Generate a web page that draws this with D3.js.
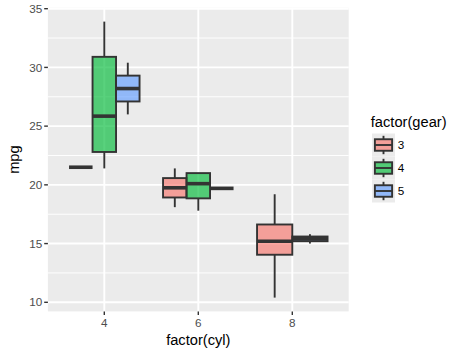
<!DOCTYPE html>
<html>
<head>
<meta charset="utf-8">
<script src="https://cdn.jsdelivr.net/npm/d3@7"></script>
<style>
  body { margin: 0; background: #fff; }
  svg { display: block; font-family: "Liberation Sans", Arial, Helvetica, sans-serif; }
</style>
</head>
<body>
<svg id="chart" width="462" height="355"></svg>
<script>
// ---- data (box statistics) ----
const cylLevels = ["4", "6", "8"];
const gearLevels = ["3", "4", "5"];
const boxCyl   = ["4",  "4",   "4",  "6",    "6",   "6",  "8",    "8"];
const boxGear  = ["3",  "4",   "5",  "3",    "4",   "5",  "3",    "5"];
const boxLow   = [21.5, 21.4,  26.0, 18.1,   17.8,  19.7, 10.4,   15.0];
const boxQ1    = [21.5, 22.8,  27.1, 18.925, 18.85, 19.7, 14.05,  15.2];
const boxMed   = [21.5, 25.85, 28.2, 19.75,  20.1,  19.7, 15.2,   15.4];
const boxQ3    = [21.5, 30.9,  29.3, 20.575, 21.0,  19.7, 16.625, 15.6];
const boxHigh  = [21.5, 33.9,  30.4, 21.4,   21.0,  19.7, 19.2,   15.8];
const yTicks = [10, 15, 20, 25, 30, 35];
const yMinor = [12.5, 17.5, 22.5, 27.5, 32.5];
const gearColors = ["#F8766D", "#00BA38", "#619CFF"];

const boxes = boxCyl.map((c, i) => ({
  cyl: c, gear: boxGear[i], low: boxLow[i], q1: boxQ1[i],
  med: boxMed[i], q3: boxQ3[i], high: boxHigh[i]
}));

// ---- layout ----
const svg = d3.select("#chart");
const panel = { left: 47.9, right: 348.7, top: 7.8, bottom: 311.4 };
const fillAlpha = 0.65;

const x = d3.scalePoint().domain(cylLevels).range([panel.left, panel.right]).padding(0.6);
const step = x.step();
const y = d3.scaleLinear().domain([9.225, 35.075]).range([panel.bottom, panel.top]);
const color = d3.scaleOrdinal().domain(gearLevels).range(gearColors);

// panel background
svg.append("rect")
  .attr("x", panel.left).attr("y", panel.top)
  .attr("width", panel.right - panel.left).attr("height", panel.bottom - panel.top)
  .attr("fill", "#EBEBEB");

const grid = svg.append("g");
grid.selectAll("line.minor").data(yMinor).join("line")
  .attr("x1", panel.left).attr("x2", panel.right)
  .attr("y1", d => y(d)).attr("y2", d => y(d))
  .attr("stroke", "#fff").attr("stroke-width", 0.95);
grid.selectAll("line.majy").data(yTicks).join("line")
  .attr("x1", panel.left).attr("x2", panel.right)
  .attr("y1", d => y(d)).attr("y2", d => y(d))
  .attr("stroke", "#fff").attr("stroke-width", 1.9);
grid.selectAll("line.majx").data(cylLevels).join("line")
  .attr("x1", d => x(d)).attr("x2", d => x(d))
  .attr("y1", panel.top).attr("y2", panel.bottom)
  .attr("stroke", "#fff").attr("stroke-width", 1.9);

// ---- boxes (dodged within each cyl) ----
const groupWidth = 0.75 * step;
const counts = d3.rollup(boxes, v => v.length, d => d.cyl);
const idx = {};
boxes.forEach(b => {
  idx[b.cyl] = (idx[b.cyl] || 0);
  b.i = idx[b.cyl]++;
  const n = counts.get(b.cyl);
  const w = groupWidth / n;
  b.x0 = x(b.cyl) - groupWidth / 2 + b.i * w;
  b.x1 = b.x0 + w;
  b.xc = (b.x0 + b.x1) / 2;
});

const outline = "#333333";
const g = svg.append("g");
boxes.forEach(b => {
  const bg = g.append("g");
  bg.append("line").attr("x1", b.xc).attr("x2", b.xc)
    .attr("y1", y(b.q3)).attr("y2", y(b.high))
    .attr("stroke", outline).attr("stroke-width", 1.9);
  bg.append("line").attr("x1", b.xc).attr("x2", b.xc)
    .attr("y1", y(b.q1)).attr("y2", y(b.low))
    .attr("stroke", outline).attr("stroke-width", 1.9);
  bg.append("rect").attr("x", b.x0).attr("width", b.x1 - b.x0)
    .attr("y", y(b.q3)).attr("height", Math.max(0, y(b.q1) - y(b.q3)))
    .attr("fill", color(b.gear)).attr("fill-opacity", fillAlpha)
    .attr("stroke", outline).attr("stroke-width", 1.9);
  bg.append("line").attr("x1", b.x0).attr("x2", b.x1)
    .attr("y1", y(b.med)).attr("y2", y(b.med))
    .attr("stroke", outline).attr("stroke-width", 3.6);
});

// ---- axes ----
const tickCol = "#333333", labCol = "#4D4D4D";
const ax = svg.append("g");
ax.selectAll("line.yt").data(yTicks).join("line")
  .attr("x1", panel.left - 3.7).attr("x2", panel.left)
  .attr("y1", d => y(d)).attr("y2", d => y(d))
  .attr("stroke", tickCol).attr("stroke-width", 1.4);
ax.selectAll("text.yt").data(yTicks).join("text")
  .attr("x", panel.left - 5.6).attr("y", d => y(d) + 4.1)
  .attr("text-anchor", "end").attr("font-size", 11.7).attr("fill", labCol)
  .text(d => d);
ax.selectAll("line.xt").data(cylLevels).join("line")
  .attr("x1", d => x(d)).attr("x2", d => x(d))
  .attr("y1", panel.bottom).attr("y2", panel.bottom + 3.7)
  .attr("stroke", tickCol).attr("stroke-width", 1.4);
ax.selectAll("text.xt").data(cylLevels).join("text")
  .attr("x", d => x(d)).attr("y", 327.2)
  .attr("text-anchor", "middle").attr("font-size", 11.7).attr("fill", labCol)
  .text(d => d);

svg.append("text").attr("x", (panel.left + panel.right) / 2).attr("y", 344.5)
  .attr("text-anchor", "middle").attr("font-size", 14.67).attr("fill", "#000")
  .text("factor(cyl)");
svg.append("text")
  .attr("transform", `translate(18.5,${(panel.top + panel.bottom) / 2}) rotate(-90)`)
  .attr("text-anchor", "middle").attr("font-size", 14.67).attr("fill", "#000")
  .text("mpg");

// ---- legend ----
const lg = svg.append("g");
lg.append("text").attr("x", 370.8).attr("y", 127.3)
  .attr("font-size", 14.67).attr("fill", "#000").text("factor(gear)");
const keySize = 23, keyX = 372, keyY0 = 133.5;
gearLevels.forEach((gear, i) => {
  const ky = keyY0 + i * keySize;
  const k = lg.append("g").attr("transform", `translate(${keyX},${ky})`);
  k.append("rect").attr("width", keySize).attr("height", keySize).attr("fill", "#EBEBEB");
  const cx = keySize / 2;
  k.append("line").attr("x1", cx).attr("x2", cx).attr("y1", keySize * 0.1).attr("y2", keySize * 0.25)
    .attr("stroke", outline).attr("stroke-width", 1.9);
  k.append("line").attr("x1", cx).attr("x2", cx).attr("y1", keySize * 0.75).attr("y2", keySize * 0.9)
    .attr("stroke", outline).attr("stroke-width", 1.9);
  k.append("rect").attr("x", keySize * 0.125).attr("y", keySize * 0.25)
    .attr("width", keySize * 0.75).attr("height", keySize * 0.5)
    .attr("fill", color(gear)).attr("fill-opacity", fillAlpha)
    .attr("stroke", outline).attr("stroke-width", 1.9);
  k.append("line").attr("x1", keySize * 0.125).attr("x2", keySize * 0.875)
    .attr("y1", keySize / 2).attr("y2", keySize / 2)
    .attr("stroke", outline).attr("stroke-width", 1.9);
  lg.append("text").attr("x", 397.7).attr("y", ky + keySize / 2 + 4.1)
    .attr("font-size", 11.7).attr("fill", "#000").text(gear);
});
</script>
</body>
</html>
